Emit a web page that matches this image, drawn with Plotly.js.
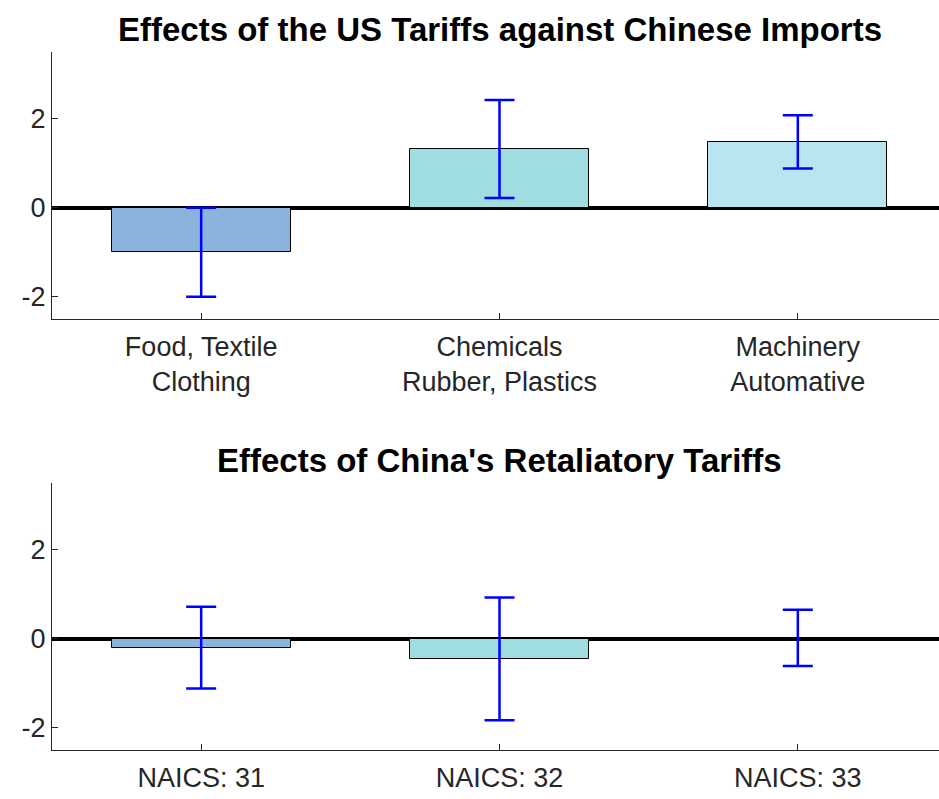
<!DOCTYPE html>
<html><head><meta charset="utf-8">
<script src="https://cdn.plot.ly/plotly-3.0.1.min.js"></script>
<style>body{margin:0;overflow:hidden;background:#fff}</style>
</head><body>
<div id="chart"></div>
<script>
// top panel: US tariffs
var usCats = ['Food, Textile<br>Clothing', 'Chemicals<br>Rubber, Plastics', 'Machinery<br>Automative']
var usVals = [-1.0, 1.32, 1.48]
var usErr = [1.0, 1.1, 0.6]
// bottom panel: China retaliation
var cnCats = ['NAICS: 31', 'NAICS: 32', 'NAICS: 33']
var cnVals = [-0.2, -0.45, 0.02]
var cnErr = [0.92, 1.38, 0.63]
var yTicks = [-2, 0, 2]
var yTickText = ['-2', '0', '2']
var barColors = ['#8ab4dc', '#a0dde0', '#b8e6f0']

var pos = [1, 2, 3]
function barTrace(vals, err, xa, ya) {
    return {
        type: 'bar', x: pos, y: vals, xaxis: xa, yaxis: ya, width: 0.6,
        marker: {color: barColors, line: {color: '#000', width: 1}},
        error_y: {type: 'data', array: err, symmetric: true, color: '#0000ff', thickness: 2.5, width: 15},
        hoverinfo: 'none'
    }
}
var data = [barTrace(usVals, usErr, 'x', 'y'), barTrace(cnVals, cnErr, 'x2', 'y2')]

var font = {family: 'Liberation Sans, Arial, sans-serif', size: 27, color: '#262626'}
function xax(cats, anchor) {
    return {anchor: anchor, range: [0.5, 3.5], tickvals: pos, ticktext: cats, showgrid: false,
        zeroline: false, showline: true, linecolor: '#262626', linewidth: 1, ticks: 'inside',
        ticklen: 6, tickcolor: '#262626', tickfont: font, ticklabelstandoff: 4}
}
function yax(dom, anchor) {
    return {anchor: anchor, domain: dom, range: [-2.5, 3.5], tickvals: yTicks, ticktext: yTickText, showgrid: false,
        zeroline: true, zerolinecolor: '#000', zerolinewidth: 4, showline: true, linecolor: '#262626',
        linewidth: 1, ticks: 'inside', ticklen: 6, tickcolor: '#262626', tickfont: font}
}
var titleFont = {family: font.family, size: 33, color: '#000'}
var layout = {
    width: 960, height: 799, showlegend: false, bargap: 0,
    margin: {l: 52, r: 13, t: 52, b: 49},
    paper_bgcolor: '#fff', plot_bgcolor: '#fff', font: font,
    xaxis: xax(usCats, 'y'), yaxis: yax([0.6175, 1], 'x'),
    xaxis2: xax(cnCats, 'y2'), yaxis2: yax([0, 0.3825], 'x2'),
    annotations: [
        {text: '<b>Effects of the US Tariffs against Chinese Imports</b>', xref: 'paper', yref: 'paper',
            x: 0.5, y: 1, yshift: 43, showarrow: false, font: titleFont},
        {text: "<b>Effects of China's Retaliatory Tariffs</b>", xref: 'paper', yref: 'paper',
            x: 0.5, y: 0.3825, yshift: 23, showarrow: false, font: titleFont}
    ]
}
Plotly.newPlot('chart', data, layout, {displayModeBar: false})
</script>
</body></html>
